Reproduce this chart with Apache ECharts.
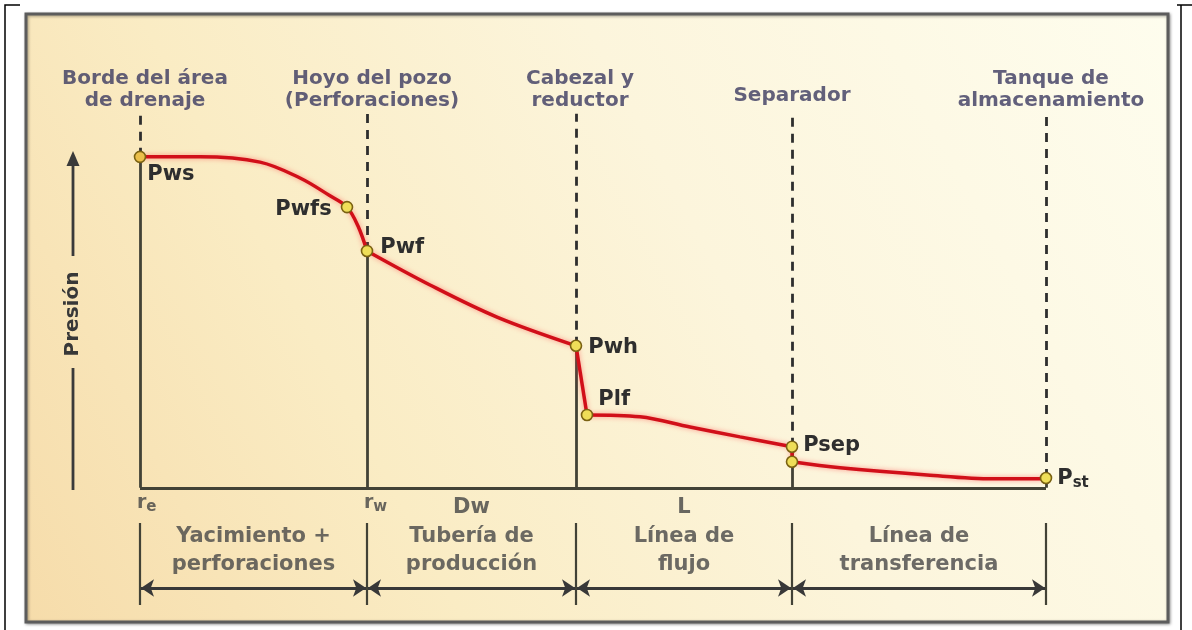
<!DOCTYPE html>
<html>
<head>
<meta charset="utf-8">
<title>Perfil de presión</title>
<script src="https://cdn.jsdelivr.net/npm/echarts@6/dist/echarts.min.js"></script>
<style>
  html, body { margin: 0; padding: 0; background: #fff; }
  #main { width: 1192px; height: 630px; }
</style>
</head>
<body>
<div id="main"></div>
<script>
// stations along the production system (distance units, not to scale)
var stationX = [0, 227, 436, 652, 906];
var stationNames = ['Borde del área\nde drenaje', 'Hoyo del pozo\n(Perforaciones)', 'Cabezal y\nreductor', 'Separador', 'Tanque de\nalmacenamiento'];
var stationP = [87.6, 62.7, 37.6, 10.9, 2.6];

var sectionNames = ['Yacimiento +\nperforaciones', 'Tubería de\nproducción', 'Línea de\nflujo', 'Línea de\ntransferencia'];
var sectionSymbols = ['', 'Dw', 'L', ''];
var radiusSubs = ['e', 'w'];

// pressure profile, one array per segment
var reservoir = [[0, 87.6], [60, 87.6], [120, 86.2], [160, 82.0], [190, 77.3], [207, 74.3], [218, 69.3], [227, 62.7]];
var tubing = [[227, 62.7], [290, 53.7], [357, 45.2], [436, 37.6]];
var choke = [[436, 37.6], [447, 19.3]];
var flowline = [[447, 19.3], [500, 18.8], [550, 16.1], [600, 13.5], [652, 10.9]];
var sepDrop = [[652, 10.9], [652, 6.9]];
var transfer = [[652, 6.9], [700, 5.3], [787, 3.4], [853, 2.4], [900, 2.4], [906, 2.6]];

var pointNames = ['Pws', 'Pwfs', 'Pwf', 'Pwh', 'Plf', 'Psep', '', 'Pst'];
var pointX = [0, 207, 227, 436, 447, 652, 652, 906];
var pointP = [87.6, 74.3, 62.7, 37.6, 19.3, 10.9, 6.9, 2.6];

var FONT = 'DejaVu Sans';
var lineDark = '#424236';

// label placement for each marker
var pointLabelPos = [
  { position: 'right', offset: [-4, 18] },
  { position: 'left', offset: [-4, 2] },
  { position: 'right', offset: [2, -3] },
  { position: 'right', offset: [1, 2] },
  { position: 'right', offset: [0, -15] },
  { position: 'right', offset: [0, -1] },
  { position: 'right', offset: [0, 0] },
  { position: 'right', offset: [0, 1] }
];
var headerOffset = [[5, 2], [5, 2], [4, 2], [0, -3], [5, 2]];

var myChart = echarts.init(document.getElementById('main'), null, { renderer: 'canvas' });

let redLine = {
  color: '#d10f19',
  width: 3.5,
  shadowColor: 'rgba(255,70,70,0.55)',
  shadowBlur: 5
};

let curveSeries = [reservoir, tubing, choke, flowline, sepDrop, transfer].map(function (seg) {
  return {
    type: 'line',
    data: seg,
    smooth: seg.length > 2 ? 0.35 : false,
    showSymbol: false,
    symbol: 'none',
    lineStyle: redLine,
    z: 4,
    silent: true
  };
});

let solidStations = stationX.map(function (x, i) {
  return { coords: [[x, 0], [x, stationP[i]]] };
});
let dashedStations = stationX.map(function (x, i) {
  return { coords: [[x, stationP[i]], [x, 99]] };
});

let sectionMids = [];
for (let i = 0; i < stationX.length - 1; i++) {
  sectionMids.push((stationX[i] + stationX[i + 1]) / 2);
}

var option = {
  animation: false,
  backgroundColor: '#ffffff',
  grid: { left: 140, right: 146, top: 110, bottom: 25, outerBoundsMode: 'none' },
  xAxis: { type: 'value', min: 0, max: 906, show: false },
  yAxis: { type: 'value', min: -31, max: 100, show: false },
  graphic: [
    {
      type: 'rect',
      z: -10,
      shape: { x: 26, y: 14, width: 1142, height: 608 },
      style: {
        fill: new echarts.graphic.LinearGradient(0, 1, 1, 0, [
          { offset: 0, color: '#f6dcaa' },
          { offset: 0.3, color: '#faecc4' },
          { offset: 0.6, color: '#fcf5dc' },
          { offset: 1, color: '#fefdee' }
        ]),
        stroke: '#5c5c5c',
        lineWidth: 3,
        shadowColor: 'rgba(0,0,0,0.35)',
        shadowBlur: 3,
        shadowOffsetX: 1,
        shadowOffsetY: 1
      }
    },
    { type: 'polyline', shape: { points: [[5, 630], [5, 5], [20, 5]] }, style: { stroke: '#000', lineWidth: 1.5, fill: null } },
    { type: 'polyline', shape: { points: [[1177, 5], [1192, 5]] }, style: { stroke: '#000', lineWidth: 1.5, fill: null } },
    { type: 'line', shape: { x1: 1181, y1: 5, x2: 1181, y2: 630 }, style: { stroke: '#000', lineWidth: 1.5 } },
    // axis title with arrow
    { type: 'line', shape: { x1: 73, y1: 256, x2: 73, y2: 162 }, style: { stroke: '#3a3a3a', lineWidth: 2.8 } },
    { type: 'polygon', shape: { points: [[73, 151], [66.5, 166], [79.5, 166]] }, style: { fill: '#3a3a3a' } },
    {
      type: 'text',
      x: 73, y: 314,
      rotation: Math.PI / 2,
      style: {
        text: 'Presión',
        font: 'bold 20px "DejaVu Sans"',
        fill: '#383838',
        align: 'center',
        verticalAlign: 'middle'
      }
    },
    { type: 'line', shape: { x1: 73, y1: 368, x2: 73, y2: 490 }, style: { stroke: '#3a3a3a', lineWidth: 2.8 } }
  ],
  series: curveSeries.concat([
    {
      // solid station lines under the curve, plus the baseline
      type: 'lines',
      coordinateSystem: 'cartesian2d',
      data: solidStations.concat([{ coords: [[stationX[0], 0], [stationX[stationX.length - 1], 0]] }]),
      lineStyle: { color: lineDark, width: 2.8, opacity: 1 },
      z: 2,
      silent: true
    },
    {
      type: 'lines',
      coordinateSystem: 'cartesian2d',
      data: dashedStations,
      lineStyle: { color: '#2e2e2e', width: 2.8, type: [9, 7], opacity: 1 },
      z: 2,
      silent: true
    },
    {
      // separators of the bottom sections
      type: 'lines',
      coordinateSystem: 'cartesian2d',
      data: stationX.map(function (x) { return { coords: [[x, -9.3], [x, -31]] }; }),
      lineStyle: { color: lineDark, width: 2.2, opacity: 1 },
      z: 2,
      silent: true
    },
    {
      // double arrows
      type: 'lines',
      coordinateSystem: 'cartesian2d',
      data: sectionMids.map(function (m, i) {
        return { coords: [[stationX[i] + 1, -26.5], [stationX[i + 1] - 1, -26.5]] };
      }),
      symbol: ['arrow', 'arrow'],
      symbolSize: 13,
      lineStyle: { color: '#383838', width: 2.8, opacity: 1 },
      z: 2,
      silent: true
    },
    {
      // pressure points
      type: 'scatter',
      data: pointX.map(function (x, i) {
        return {
          value: [x, pointP[i]],
          name: pointNames[i],
          label: pointLabelPos[i],
          itemStyle: i === 0 ? { color: '#ebbf4a' } : undefined
        };
      }),
      symbolSize: 11,
      itemStyle: { color: '#efde58', borderColor: '#7a6212', borderWidth: 1.6, opacity: 1 },
      label: {
        show: true,
        formatter: function (p) {
          if (p.name === 'Pst') return '{a|P}{b|st}';
          return p.name;
        },
        fontFamily: FONT,
        fontWeight: 'bold',
        fontSize: 21,
        color: '#2e2e2e',
        rich: {
          a: { fontFamily: FONT, fontWeight: 'bold', fontSize: 21, color: '#2e2e2e', lineHeight: 26 },
          b: { fontFamily: FONT, fontWeight: 'bold', fontSize: 15, color: '#2e2e2e', lineHeight: 26, padding: [8, 0, 0, 0] }
        }
      },
      z: 6,
      clip: false,
      silent: true
    },
    {
      // station headers
      type: 'scatter',
      data: stationX.map(function (x, i) {
        return { value: [x, 100], name: stationNames[i], label: { offset: headerOffset[i] } };
      }),
      symbolSize: 0,
      label: {
        show: true,
        position: 'top',
        distance: 0,
        formatter: '{b}',
        fontFamily: FONT,
        fontWeight: 'bold',
        fontSize: 20,
        lineHeight: 22,
        color: '#3b3960',
        align: 'center'
      },
      clip: false,
      silent: true
    },
    {
      // r_e, r_w under the baseline
      type: 'scatter',
      data: radiusSubs.map(function (s, i) {
        return { value: [stationX[i], -4], name: s };
      }),
      symbolSize: 0,
      label: {
        show: true,
        position: 'right',
        distance: 0,
        offset: [-3, 0],
        formatter: function (p) { return '{a|r}{b|' + p.name + '}'; },
        rich: {
          a: { fontFamily: FONT, fontWeight: 'bold', fontSize: 19, color: '#444', lineHeight: 24 },
          b: { fontFamily: FONT, fontWeight: 'bold', fontSize: 15, color: '#444', lineHeight: 24, padding: [8, 0, 0, 0] }
        }
      },
      clip: false,
      silent: true
    },
    {
      // Dw, L
      type: 'scatter',
      data: sectionMids.map(function (m, i) {
        return { value: [m, -5.3], name: sectionSymbols[i] };
      }),
      symbolSize: 0,
      label: {
        show: true,
        position: 'inside',
        formatter: '{b}',
        fontFamily: FONT,
        fontWeight: 'bold',
        fontSize: 21,
        color: '#444'
      },
      clip: false,
      silent: true
    },
    {
      // section names
      type: 'scatter',
      data: sectionMids.map(function (m, i) {
        return { value: [m, -16.7], name: sectionNames[i] };
      }),
      symbolSize: 0,
      label: {
        show: true,
        position: 'inside',
        formatter: '{b}',
        fontFamily: FONT,
        fontWeight: 'bold',
        fontSize: 21,
        lineHeight: 28,
        color: '#474747',
        align: 'center'
      },
      clip: false,
      silent: true
    }
  ])
};

myChart.setOption(option);
</script>
</body>
</html>
